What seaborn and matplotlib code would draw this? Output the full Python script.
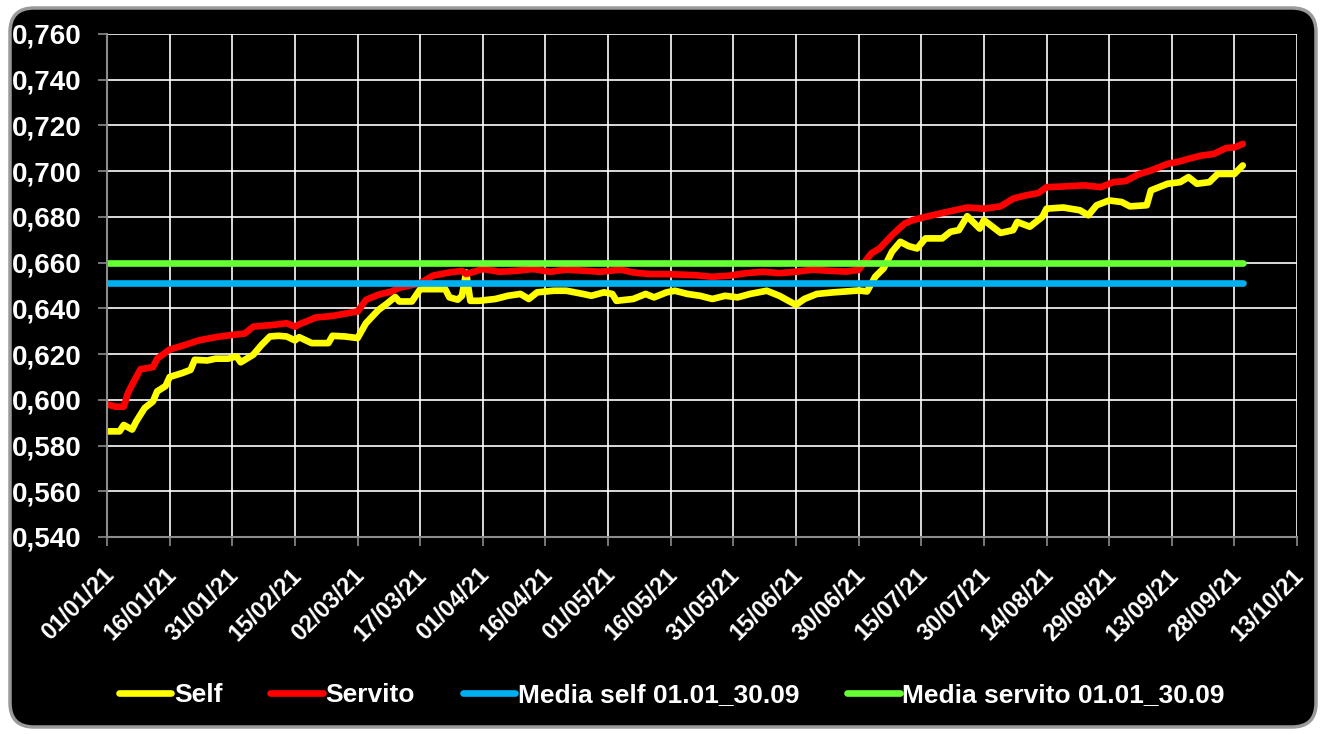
import numpy as np
import pandas as pd
import seaborn as sns
import matplotlib.pyplot as plt
import matplotlib.dates as mdates
import matplotlib.transforms as mtransforms
from matplotlib.ticker import FuncFormatter
from matplotlib.patches import FancyBboxPatch

# giorni dal 01/01/21 e prezzi
giorni_servito = [0, 2, 4, 5, 6, 8, 11, 12, 15, 18, 22, 26, 30, 33, 35, 40, 43, 45, 46, 50,
                  54, 58, 60, 62, 65, 68, 70, 75, 78, 82, 85, 86, 90, 94, 98, 102, 106, 110, 115, 118,
                  123, 126, 130, 134, 141, 145, 149, 153, 157, 161, 165, 169, 173, 177, 180, 183, 185, 188, 191, 193,
                  196, 200, 203, 206, 210, 214, 217, 220, 223, 225, 229, 234, 238, 241, 244, 247, 250, 254, 257, 259,
                  262, 265, 268, 270, 272]
servito = [0.598, 0.597, 0.597, 0.603, 0.6066, 0.6134, 0.6143, 0.618, 0.622, 0.6236, 0.626, 0.6274, 0.6284, 0.629, 0.632, 0.6328, 0.6335, 0.632, 0.633, 0.636,
           0.6367, 0.638, 0.6386, 0.6437, 0.646, 0.6473, 0.649, 0.651, 0.6543, 0.6557, 0.6564, 0.655, 0.6572, 0.656, 0.6564, 0.6572, 0.656, 0.6569, 0.6564, 0.656,
           0.6569, 0.6557, 0.655, 0.655, 0.6545, 0.6538, 0.6543, 0.6554, 0.656, 0.6554, 0.656, 0.6569, 0.6564, 0.6561, 0.6568, 0.664, 0.6662, 0.672, 0.6771, 0.6786,
           0.680, 0.6817, 0.6829, 0.6841, 0.6836, 0.6846, 0.688, 0.6894, 0.6904, 0.693, 0.6933, 0.6938, 0.693, 0.6952, 0.6957, 0.6986, 0.7003, 0.7032, 0.7043, 0.7054,
           0.7068, 0.7075, 0.7101, 0.7104, 0.7119]

giorni_self = [0, 3, 4, 6, 7, 9, 11, 12, 14, 15, 18, 20, 21, 24, 26, 29, 31, 32, 35, 37,
               39, 41, 43, 45, 46, 49, 53, 54, 57, 60, 62, 65, 67, 69, 70, 73, 75, 81, 82, 84,
               85, 86, 87, 89, 93, 96, 99, 101, 103, 107, 110, 114, 116, 119, 121, 122, 126, 129, 131, 134,
               136, 139, 142, 145, 148, 151, 154, 158, 161, 165, 167, 170, 174, 177, 180, 182, 184, 186, 188, 190,
               192, 194, 196, 200, 202, 204, 206, 209, 210, 214, 217, 218, 221, 224, 225, 229, 233, 235, 237, 240,
               243, 245, 249, 250, 254, 257, 259, 261, 264, 266, 270, 272]
self_prezzi = [0.5862, 0.5862, 0.589, 0.587, 0.5906, 0.5964, 0.5993, 0.6037, 0.606, 0.610, 0.6117, 0.6131, 0.6175, 0.6172, 0.618, 0.618, 0.619, 0.6164, 0.6197, 0.624,
               0.6277, 0.628, 0.6277, 0.626, 0.6274, 0.6248, 0.6248, 0.628, 0.6277, 0.627, 0.6335, 0.6393, 0.642, 0.645, 0.643, 0.643, 0.6484, 0.6484, 0.6448, 0.6438,
               0.6455, 0.6557, 0.6433, 0.6433, 0.6441, 0.6455, 0.6463, 0.6441, 0.647, 0.6477, 0.6477, 0.6463, 0.6455, 0.647, 0.6463, 0.6433, 0.6441, 0.6463, 0.6448, 0.647,
               0.6477, 0.6463, 0.6455, 0.6441, 0.6455, 0.6448, 0.6463, 0.6477, 0.6455, 0.6415, 0.6441, 0.6463, 0.647, 0.6474, 0.6478, 0.6474, 0.6539, 0.6575, 0.6648, 0.6691,
               0.6672, 0.6662, 0.6706, 0.6706, 0.6735, 0.6742, 0.6803, 0.6749, 0.6786, 0.673, 0.6742, 0.6778, 0.6757, 0.680, 0.6836, 0.6841, 0.6829, 0.6807, 0.6851, 0.6872,
               0.6865, 0.6846, 0.6851, 0.6916, 0.6945, 0.6952, 0.6974, 0.6945, 0.6952, 0.6988, 0.6988, 0.7025]

media_self = 0.651
media_servito = 0.660
periodo = ["2021-01-01", "2021-09-30"]
etichette = ["Self", "Servito", "Media self 01.01_30.09", "Media servito 01.01_30.09"]
colori = ["#FFFF00", "#FF0000", "#00B0F0", "#66FF33"]

inizio = pd.Timestamp("2021-01-01")
df_self = pd.DataFrame({"data": inizio + pd.to_timedelta(giorni_self, unit="D"), "prezzo": self_prezzi})
df_servito = pd.DataFrame({"data": inizio + pd.to_timedelta(giorni_servito, unit="D"), "prezzo": servito})
df_mself = pd.DataFrame({"data": pd.to_datetime(periodo), "prezzo": [media_self] * 2})
df_mserv = pd.DataFrame({"data": pd.to_datetime(periodo), "prezzo": [media_servito] * 2})

sns.set_theme(style="dark")
plt.rcParams["font.family"] = ["Liberation Sans Narrow", "Liberation Sans", "DejaVu Sans"]
plt.rcParams["font.weight"] = "bold"

fig = plt.figure(figsize=(13.25, 7.34), dpi=100)
fig.patch.set_facecolor("white")
pannello = FancyBboxPatch((10, 7), 1306, 719, boxstyle="round,pad=0,rounding_size=24",
                          transform=None, facecolor="black", edgecolor="#9a9a9a", linewidth=2.5, zorder=-10)
fig.patches.append(pannello)

ax = fig.add_axes([0.0808, 0.2684, 0.8981, 0.6853])
ax.set_facecolor("black")
ax.set_zorder(5)

for df, col, lab in zip([df_self, df_servito, df_mself, df_mserv], colori, etichette):
    sns.lineplot(data=df, x="data", y="prezzo", ax=ax, color=col, linewidth=4.8,
                 label=lab, solid_capstyle="round", legend=False)

ax.set_xlim(pd.Timestamp("2021-01-01"), pd.Timestamp("2021-10-13"))
ax.set_ylim(0.54, 0.76)
ax.set_xticks(pd.date_range("2021-01-01", "2021-10-13", freq="15D"))
ax.xaxis.set_major_formatter(mdates.DateFormatter("%d/%m/%y"))
ax.set_yticks(np.arange(0.54, 0.7601, 0.02))
ax.yaxis.set_major_formatter(FuncFormatter(lambda v, p: f"{v:.3f}".replace(".", ",")))
ax.set_xlabel("")
ax.set_ylabel("")

ax.grid(True, color="white", linewidth=1.2)
ax.set_axisbelow(True)
for s in ["top", "right"]:
    ax.spines[s].set_visible(False)
ax.spines["left"].set_color("#8c8c8c")
ax.spines["bottom"].set_color("#8c8c8c")
ax.spines["left"].set_linewidth(1.5)
ax.spines["bottom"].set_linewidth(1.5)
ax.tick_params(axis="both", which="both", direction="out", length=6.5, width=1.2,
               color="#8c8c8c", labelcolor="white", bottom=True, left=True)
ax.tick_params(axis="y", labelsize=20, pad=12)
ax.tick_params(axis="x", labelsize=17, pad=4)

sposta = mtransforms.ScaledTranslation(-5 / 100, -12 / 100, fig.dpi_scale_trans)
for t in ax.get_xticklabels():
    t.set_rotation(45)
    t.set_ha("right")
    t.set_va("top")
    t.set_rotation_mode("anchor")
    t.set_fontweight("bold")
    t.set_transform(t.get_transform() + sposta)
for t in ax.get_yticklabels():
    t.set_fontweight("bold")

maniglie = ax.get_lines()
leg = fig.legend(maniglie, etichette, loc="center", bbox_to_anchor=(0.507, 0.053), ncol=4,
                 frameon=False, handlelength=2.0, handletextpad=0.1, columnspacing=1.8,
                 prop={"size": 19, "weight": "bold"})
for t in leg.get_texts():
    t.set_color("white")
leg.set_zorder(6)

fig.savefig("out.png", dpi=100, facecolor=fig.get_facecolor())
